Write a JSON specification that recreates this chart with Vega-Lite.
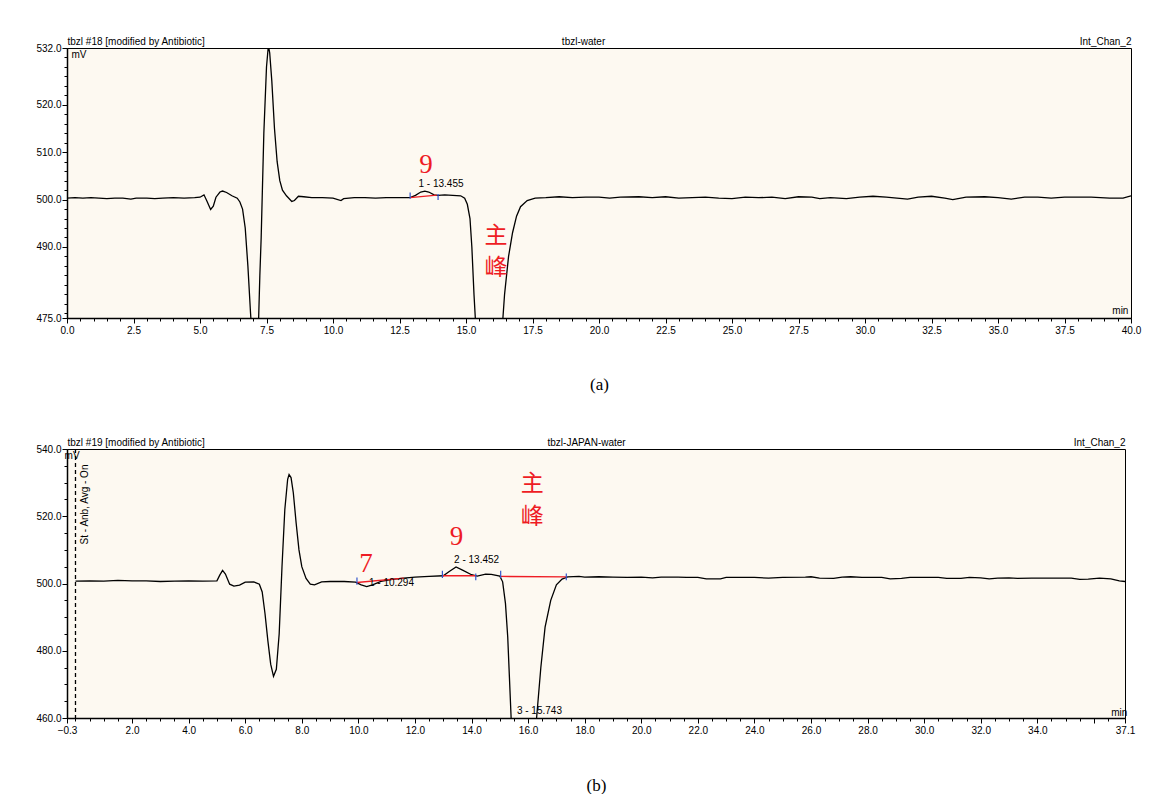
{
"$schema": "https://vega.github.io/schema/vega-lite/v6.json",
"background": "white",
"padding": {"left": 35, "top": 35, "right": 10, "bottom": 0},
"config": {
  "view": {"stroke": "black", "strokeWidth": 1, "fill": "#fdf9f1"},
  "axis": {"labelFont": "Liberation Sans", "labelFontSize": 10, "labelColor": "black", "domainColor": "black", "tickColor": "black", "grid": false, "titleFont": "Liberation Serif", "titleFontSize": 17, "titleFontWeight": "normal", "titleColor": "black"},
  "concat": {"spacing": 43}
},
"datasets": {
  "a": [
    {"t":0.0,"v":500.3},{"t":0.3,"v":500.4},{"t":0.6,"v":500.3},{"t":0.9,"v":500.4},{"t":1.2,"v":500.3},{"t":1.5,"v":500.2},{"t":1.8,"v":500.3},{"t":2.1,"v":500.3},{"t":2.4,"v":500.1},{"t":2.6,"v":500.3},{"t":3.0,"v":500.3},{"t":3.3,"v":500.2},{"t":3.6,"v":500.3},{"t":4.0,"v":500.4},{"t":4.4,"v":500.3},{"t":4.8,"v":500.4},{"t":5.0,"v":500.5},{"t":5.15,"v":501.0},{"t":5.25,"v":499.8},{"t":5.4,"v":497.9},{"t":5.5,"v":498.6},{"t":5.6,"v":500.5},{"t":5.75,"v":501.6},{"t":5.85,"v":501.8},{"t":6.0,"v":501.5},{"t":6.2,"v":500.8},{"t":6.4,"v":500.3},{"t":6.5,"v":499.5},{"t":6.6,"v":498.0},{"t":6.7,"v":494.0},{"t":6.8,"v":486.0},{"t":6.9,"v":476.0},{"t":7.0,"v":468.0},{"t":7.1,"v":466.0},{"t":7.2,"v":474.0},{"t":7.25,"v":484.0},{"t":7.3,"v":492.0},{"t":7.4,"v":514.0},{"t":7.5,"v":528.0},{"t":7.57,"v":532.5},{"t":7.62,"v":531.0},{"t":7.7,"v":525.0},{"t":7.8,"v":515.0},{"t":7.9,"v":508.0},{"t":8.0,"v":504.0},{"t":8.1,"v":502.0},{"t":8.25,"v":500.8},{"t":8.45,"v":499.6},{"t":8.55,"v":499.8},{"t":8.7,"v":500.7},{"t":8.9,"v":500.6},{"t":9.2,"v":500.4},{"t":9.6,"v":500.4},{"t":10.0,"v":500.3},{"t":10.3,"v":499.8},{"t":10.4,"v":500.2},{"t":10.8,"v":500.4},{"t":11.2,"v":500.4},{"t":11.6,"v":500.3},{"t":12.0,"v":500.4},{"t":12.4,"v":500.4},{"t":12.9,"v":500.4},{"t":13.1,"v":500.9},{"t":13.3,"v":501.6},{"t":13.455,"v":501.8},{"t":13.6,"v":501.6},{"t":13.8,"v":501.0},{"t":13.95,"v":500.9},{"t":14.2,"v":501.0},{"t":14.5,"v":500.9},{"t":14.8,"v":500.8},{"t":14.95,"v":500.3},{"t":15.05,"v":499.0},{"t":15.15,"v":496.0},{"t":15.22,"v":490.0},{"t":15.3,"v":480.0},{"t":15.4,"v":470.0},{"t":15.6,"v":460.0},{"t":15.8,"v":455.0},{"t":16.0,"v":456.0},{"t":16.2,"v":462.0},{"t":16.35,"v":472.0},{"t":16.45,"v":480.0},{"t":16.6,"v":488.0},{"t":16.75,"v":493.0},{"t":16.9,"v":496.5},{"t":17.05,"v":498.5},{"t":17.3,"v":499.8},{"t":17.6,"v":500.3},{"t":18.0,"v":500.4},{"t":18.5,"v":500.6},{"t":19.0,"v":500.4},{"t":19.5,"v":500.5},{"t":20.0,"v":500.5},{"t":20.4,"v":500.3},{"t":20.8,"v":500.5},{"t":21.5,"v":500.6},{"t":22.0,"v":500.4},{"t":22.5,"v":500.6},{"t":23.0,"v":500.3},{"t":23.5,"v":500.4},{"t":24.0,"v":500.5},{"t":24.5,"v":500.3},{"t":25.0,"v":500.2},{"t":25.5,"v":500.5},{"t":26.0,"v":500.4},{"t":26.5,"v":500.5},{"t":27.0,"v":500.2},{"t":27.5,"v":500.6},{"t":28.0,"v":500.5},{"t":28.3,"v":500.2},{"t":28.7,"v":500.4},{"t":29.3,"v":500.2},{"t":29.8,"v":500.5},{"t":30.3,"v":500.7},{"t":30.8,"v":500.5},{"t":31.2,"v":500.3},{"t":31.6,"v":500.1},{"t":32.0,"v":500.5},{"t":32.5,"v":500.7},{"t":33.0,"v":500.3},{"t":33.3,"v":500.0},{"t":33.8,"v":500.5},{"t":34.5,"v":500.6},{"t":35.0,"v":500.4},{"t":35.5,"v":500.1},{"t":36.0,"v":500.5},{"t":36.5,"v":500.5},{"t":37.0,"v":500.3},{"t":37.5,"v":500.5},{"t":38.5,"v":500.5},{"t":39.2,"v":500.3},{"t":39.7,"v":500.3},{"t":40.0,"v":500.8}
  ],
  "b": [
    {"t":0.0,"v":500.7},{"t":0.5,"v":500.8},{"t":1.0,"v":500.7},{"t":1.5,"v":500.9},{"t":2.0,"v":500.8},{"t":2.5,"v":500.8},{"t":3.0,"v":500.6},{"t":3.5,"v":500.7},{"t":4.0,"v":500.8},{"t":4.5,"v":500.7},{"t":5.0,"v":500.8},{"t":5.1,"v":502.5},{"t":5.2,"v":503.9},{"t":5.3,"v":502.8},{"t":5.45,"v":499.8},{"t":5.6,"v":499.2},{"t":5.8,"v":499.5},{"t":6.0,"v":500.4},{"t":6.3,"v":500.5},{"t":6.5,"v":499.8},{"t":6.6,"v":497.5},{"t":6.7,"v":491.0},{"t":6.8,"v":483.0},{"t":6.9,"v":476.0},{"t":7.0,"v":472.4},{"t":7.1,"v":474.5},{"t":7.2,"v":485.0},{"t":7.3,"v":505.0},{"t":7.4,"v":522.0},{"t":7.5,"v":531.0},{"t":7.55,"v":532.4},{"t":7.62,"v":531.5},{"t":7.7,"v":527.0},{"t":7.8,"v":518.0},{"t":7.9,"v":510.0},{"t":8.0,"v":505.0},{"t":8.15,"v":501.5},{"t":8.3,"v":499.8},{"t":8.45,"v":499.6},{"t":8.7,"v":500.5},{"t":9.0,"v":500.6},{"t":9.5,"v":500.6},{"t":9.9,"v":500.4},{"t":10.1,"v":499.6},{"t":10.294,"v":499.1},{"t":10.5,"v":499.6},{"t":10.8,"v":500.6},{"t":11.2,"v":501.2},{"t":11.6,"v":501.6},{"t":12.0,"v":501.9},{"t":12.5,"v":502.1},{"t":13.0,"v":502.3},{"t":13.2,"v":503.5},{"t":13.452,"v":504.9},{"t":13.7,"v":503.9},{"t":14.0,"v":502.6},{"t":14.2,"v":502.2},{"t":14.5,"v":502.8},{"t":14.7,"v":502.7},{"t":15.0,"v":502.2},{"t":15.1,"v":500.5},{"t":15.2,"v":494.0},{"t":15.28,"v":484.0},{"t":15.34,"v":472.0},{"t":15.4,"v":460.0},{"t":15.8,"v":440.0},{"t":16.1,"v":448.0},{"t":16.3,"v":460.0},{"t":16.45,"v":475.0},{"t":16.6,"v":487.0},{"t":16.8,"v":495.0},{"t":17.0,"v":499.6},{"t":17.2,"v":501.3},{"t":17.4,"v":502.0},{"t":17.8,"v":502.1},{"t":18.0,"v":501.9},{"t":18.5,"v":502.0},{"t":19.0,"v":501.9},{"t":19.5,"v":501.8},{"t":20.0,"v":501.9},{"t":20.4,"v":501.7},{"t":20.7,"v":501.9},{"t":21.3,"v":501.9},{"t":21.6,"v":501.8},{"t":22.0,"v":501.8},{"t":22.3,"v":501.4},{"t":22.8,"v":501.4},{"t":23.0,"v":501.8},{"t":24.0,"v":501.8},{"t":24.5,"v":501.6},{"t":25.0,"v":501.8},{"t":25.8,"v":501.9},{"t":26.0,"v":502.0},{"t":26.3,"v":501.6},{"t":26.8,"v":501.5},{"t":27.1,"v":501.9},{"t":27.4,"v":502.0},{"t":27.8,"v":501.8},{"t":28.5,"v":501.8},{"t":28.8,"v":501.4},{"t":29.2,"v":501.5},{"t":29.5,"v":501.8},{"t":30.5,"v":501.8},{"t":30.8,"v":501.5},{"t":31.3,"v":501.5},{"t":31.6,"v":501.8},{"t":32.0,"v":501.7},{"t":32.3,"v":501.4},{"t":32.6,"v":501.6},{"t":33.0,"v":501.7},{"t":33.3,"v":501.5},{"t":33.8,"v":501.6},{"t":34.5,"v":501.6},{"t":35.2,"v":501.6},{"t":35.5,"v":501.2},{"t":35.8,"v":501.3},{"t":36.2,"v":501.6},{"t":36.6,"v":501.4},{"t":36.9,"v":500.8},{"t":37.1,"v":500.6}
  ],
  "ia": [{"seg":"p1","t":12.9,"v":500.4},{"seg":"p1","t":13.9,"v":500.95}],
  "ib": [{"seg":"p1","t":9.95,"v":500.3},{"seg":"p1","t":11.6,"v":501.6},{"seg":"p2","t":12.97,"v":502.3},{"seg":"p2","t":14.15,"v":502.3},{"seg":"p3","t":15.03,"v":502.1},{"seg":"p3","t":17.35,"v":502.0}],
  "ma": [{"t":12.9,"v1":500.2,"v2":501.5},{"t":13.95,"v1":499.9,"v2":501.2}],
  "mb": [{"t":9.95,"v1":499.6,"v2":501.8},{"t":12.97,"v1":501.6,"v2":503.8},{"t":14.15,"v1":501.0,"v2":503.0},{"t":15.03,"v1":501.6,"v2":503.8},{"t":17.35,"v1":501.0,"v2":503.0}],
  "numA": [{"t":13.5,"v":507.3,"label":"9"}],
  "cjkA": [{"t":16.13,"v":492.3,"label":"主"},{"t":16.13,"v":485.6,"label":"峰"}],
  "smallA": [{"t":14.06,"v":503.3,"label":"1 - 13.455"},{"t":0.45,"v":530.5,"label":"mV"},{"t":39.6,"v":476.5,"label":"min"}],
  "numB": [{"t":10.27,"v":505.8,"label":"7"},{"t":13.47,"v":513.8,"label":"9"}],
  "cjkB": [{"t":16.15,"v":529.6,"label":"主"},{"t":16.15,"v":519.9,"label":"峰"}],
  "smallB": [{"t":11.17,"v":500.2,"label":"1 - 10.294"},{"t":14.18,"v":507.0,"label":"2 - 13.452"},{"t":16.4,"v":462.1,"label":"3 - 15.743"},{"t":-0.12,"v":537.9,"label":"mV"},{"t":36.9,"v":461.5,"label":"min"}],
  "injB": [{"t":0}],
  "noteB": [{"t":0.33,"v":523.5,"label":"St - Anb, Avg - On"}]
},
"vconcat": [
  {
    "width": 1064, "height": 270,
    "resolve": {"axis": {"x": "independent", "y": "independent"}},
    "layer": [
      {"data": {"name": "a"}, "mark": {"type": "line", "color": "black", "strokeWidth": 1.3, "clip": true},
       "encoding": {
         "x": {"field": "t", "type": "quantitative", "scale": {"domain": [0, 40], "nice": false, "zero": false},
               "axis": {"orient": "bottom", "title": "(a)", "titlePadding": 41, "labelFlush": false, "labelOverlap": false, "labelPadding": 2, "domainWidth": 1.5,
                        "values": [0,0.5,1,1.5,2,2.5,3,3.5,4,4.5,5,5.5,6,6.5,7,7.5,8,8.5,9,9.5,10,10.5,11,11.5,12,12.5,13,13.5,14,14.5,15,15.5,16,16.5,17,17.5,18,18.5,19,19.5,20,20.5,21,21.5,22,22.5,23,23.5,24,24.5,25,25.5,26,26.5,27,27.5,28,28.5,29,29.5,30,30.5,31,31.5,32,32.5,33,33.5,34,34.5,35,35.5,36,36.5,37,37.5,38,38.5,39,39.5,40],
                        "labelExpr": "datum.value % 2.5 == 0 ? format(datum.value, '.1f') : ''",
                        "tickSize": {"condition": {"test": "datum.value % 2.5 == 0", "value": 5}, "value": 3}}},
         "y": {"field": "v", "type": "quantitative", "scale": {"domain": [475, 532], "nice": false, "zero": false},
               "axis": {"title": null, "labelOverlap": false, "labelPadding": 1, "domainWidth": 1.5,
                        "values": [475,476,478,480,482,484,486,488,490,492,494,496,498,500,502,504,506,508,510,512,514,516,518,520,522,524,526,528,530,532],
                        "labelExpr": "(datum.value == 475 || datum.value == 532 || (datum.value >= 490 && datum.value <= 520 && datum.value % 10 == 0)) ? format(datum.value, '.1f') : ''",
                        "tickSize": {"condition": {"test": "datum.value == 475 || datum.value == 532 || (datum.value >= 490 && datum.value <= 520 && datum.value % 10 == 0)", "value": 5}, "value": 3}}}
       }},
      {"data": {"name": "ia"}, "mark": {"type": "line", "color": "#ee1c24", "strokeWidth": 1.3},
       "encoding": {
         "x": {"field": "t", "type": "quantitative", "scale": {"domain": [0, 40], "nice": false, "zero": false}, "axis": null},
         "y": {"field": "v", "type": "quantitative", "scale": {"domain": [475, 532], "nice": false, "zero": false}, "axis": null},
         "detail": {"field": "seg"}}},
      {"data": {"name": "ma"}, "mark": {"type": "rule", "color": "#3355cc", "strokeWidth": 1.2},
       "encoding": {
         "x": {"field": "t", "type": "quantitative", "scale": {"domain": [0, 40], "nice": false, "zero": false}, "axis": null},
         "y": {"field": "v1", "type": "quantitative", "scale": {"domain": [475, 532], "nice": false, "zero": false}, "axis": null},
         "y2": {"field": "v2"}}},
      {"data": {"name": "numA"}, "mark": {"type": "text", "font": "Liberation Serif", "fontSize": 27, "color": "#ee1c24", "baseline": "middle", "align": "center"},
       "encoding": {
         "x": {"field": "t", "type": "quantitative", "scale": {"domain": [0, 40], "nice": false, "zero": false}, "axis": null},
         "y": {"field": "v", "type": "quantitative", "scale": {"domain": [475, 532], "nice": false, "zero": false}, "axis": null},
         "text": {"field": "label"}}},
      {"data": {"name": "cjkA"}, "mark": {"type": "text", "font": "Noto Sans CJK SC", "fontSize": 23, "color": "#ee1c24", "baseline": "middle", "align": "center"},
       "encoding": {
         "x": {"field": "t", "type": "quantitative", "scale": {"domain": [0, 40], "nice": false, "zero": false}, "axis": null},
         "y": {"field": "v", "type": "quantitative", "scale": {"domain": [475, 532], "nice": false, "zero": false}, "axis": null},
         "text": {"field": "label"}}},
      {"data": {"name": "smallA"}, "mark": {"type": "text", "font": "Liberation Sans", "fontSize": 10, "color": "black", "baseline": "middle", "align": "center"},
       "encoding": {
         "x": {"field": "t", "type": "quantitative", "scale": {"domain": [0, 40], "nice": false, "zero": false},
               "axis": {"orient": "top", "title": null, "ticks": false, "domain": false, "labelFlush": false, "labelOverlap": false, "labelPadding": 2,
                        "values": [0, 19.4, 40],
                        "labelExpr": "datum.value == 0 ? 'tbzl #18 [modified by Antibiotic]' : datum.value == 40 ? 'Int_Chan_2' : 'tbzl-water'",
                        "labelAlign": {"condition": [{"test": "datum.value == 0", "value": "left"}, {"test": "datum.value == 40", "value": "right"}], "value": "center"}}},
         "y": {"field": "v", "type": "quantitative", "scale": {"domain": [475, 532], "nice": false, "zero": false}, "axis": null},
         "text": {"field": "label"}}}
    ]
  },
  {
    "width": 1058, "height": 269,
    "resolve": {"axis": {"x": "independent", "y": "independent"}},
    "layer": [
      {"data": {"name": "injB"}, "mark": {"type": "rule", "color": "black", "strokeWidth": 1.3, "strokeDash": [4, 3]},
       "encoding": {
         "x": {"field": "t", "type": "quantitative", "scale": {"domain": [-0.3, 37.1], "nice": false, "zero": false}, "axis": null}}},
      {"data": {"name": "b"}, "mark": {"type": "line", "color": "black", "strokeWidth": 1.3, "clip": true},
       "encoding": {
         "x": {"field": "t", "type": "quantitative", "scale": {"domain": [-0.3, 37.1], "nice": false, "zero": false},
               "axis": {"orient": "bottom", "title": "(b)", "titlePadding": 42, "labelFlush": false, "labelOverlap": false, "labelPadding": 2, "domainWidth": 1.5,
                        "values": [-0.3,0,0.5,1,1.5,2,2.5,3,3.5,4,4.5,5,5.5,6,6.5,7,7.5,8,8.5,9,9.5,10,10.5,11,11.5,12,12.5,13,13.5,14,14.5,15,15.5,16,16.5,17,17.5,18,18.5,19,19.5,20,20.5,21,21.5,22,22.5,23,23.5,24,24.5,25,25.5,26,26.5,27,27.5,28,28.5,29,29.5,30,30.5,31,31.5,32,32.5,33,33.5,34,34.5,35,35.5,36,36.5,37.1],
                        "labelExpr": "(datum.value == -0.3 || datum.value == 37.1 || (datum.value > 0 && datum.value <= 34 && datum.value % 2 == 0)) ? format(datum.value, '.1f') : ''",
                        "tickSize": {"condition": {"test": "datum.value == -0.3 || datum.value == 37.1 || (datum.value > 0 && datum.value % 2 == 0)", "value": 5}, "value": 3}}},
         "y": {"field": "v", "type": "quantitative", "scale": {"domain": [460, 540], "nice": false, "zero": false},
               "axis": {"title": null, "labelOverlap": false, "labelPadding": 1, "domainWidth": 1.5,
                        "values": [460,465,470,475,480,485,490,495,500,505,510,515,520,525,530,535,540],
                        "labelExpr": "datum.value % 20 == 0 ? format(datum.value, '.1f') : ''",
                        "tickSize": {"condition": {"test": "datum.value % 20 == 0", "value": 5}, "value": 3}}}
       }},
      {"data": {"name": "ib"}, "mark": {"type": "line", "color": "#ee1c24", "strokeWidth": 1.3},
       "encoding": {
         "x": {"field": "t", "type": "quantitative", "scale": {"domain": [-0.3, 37.1], "nice": false, "zero": false}, "axis": null},
         "y": {"field": "v", "type": "quantitative", "scale": {"domain": [460, 540], "nice": false, "zero": false}, "axis": null},
         "detail": {"field": "seg"}}},
      {"data": {"name": "mb"}, "mark": {"type": "rule", "color": "#3355cc", "strokeWidth": 1.2},
       "encoding": {
         "x": {"field": "t", "type": "quantitative", "scale": {"domain": [-0.3, 37.1], "nice": false, "zero": false}, "axis": null},
         "y": {"field": "v1", "type": "quantitative", "scale": {"domain": [460, 540], "nice": false, "zero": false}, "axis": null},
         "y2": {"field": "v2"}}},
      {"data": {"name": "numB"}, "mark": {"type": "text", "font": "Liberation Serif", "fontSize": 27, "color": "#ee1c24", "baseline": "middle", "align": "center"},
       "encoding": {
         "x": {"field": "t", "type": "quantitative", "scale": {"domain": [-0.3, 37.1], "nice": false, "zero": false}, "axis": null},
         "y": {"field": "v", "type": "quantitative", "scale": {"domain": [460, 540], "nice": false, "zero": false}, "axis": null},
         "text": {"field": "label"}}},
      {"data": {"name": "cjkB"}, "mark": {"type": "text", "font": "Noto Sans CJK SC", "fontSize": 23, "color": "#ee1c24", "baseline": "middle", "align": "center"},
       "encoding": {
         "x": {"field": "t", "type": "quantitative", "scale": {"domain": [-0.3, 37.1], "nice": false, "zero": false}, "axis": null},
         "y": {"field": "v", "type": "quantitative", "scale": {"domain": [460, 540], "nice": false, "zero": false}, "axis": null},
         "text": {"field": "label"}}},
      {"data": {"name": "noteB"}, "mark": {"type": "text", "font": "Liberation Sans", "fontSize": 10, "color": "black", "baseline": "middle", "align": "center", "angle": 270},
       "encoding": {
         "x": {"field": "t", "type": "quantitative", "scale": {"domain": [-0.3, 37.1], "nice": false, "zero": false}, "axis": null},
         "y": {"field": "v", "type": "quantitative", "scale": {"domain": [460, 540], "nice": false, "zero": false}, "axis": null},
         "text": {"field": "label"}}},
      {"data": {"name": "smallB"}, "mark": {"type": "text", "font": "Liberation Sans", "fontSize": 10, "color": "black", "baseline": "middle", "align": "center"},
       "encoding": {
         "x": {"field": "t", "type": "quantitative", "scale": {"domain": [-0.3, 37.1], "nice": false, "zero": false},
               "axis": {"orient": "top", "title": null, "ticks": false, "domain": false, "labelFlush": false, "labelOverlap": false, "labelPadding": 2,
                        "values": [-0.3, 18.05, 37.1],
                        "labelExpr": "datum.value == -0.3 ? 'tbzl #19 [modified by Antibiotic]' : datum.value == 37.1 ? 'Int_Chan_2' : 'tbzl-JAPAN-water'",
                        "labelAlign": {"condition": [{"test": "datum.value == -0.3", "value": "left"}, {"test": "datum.value == 37.1", "value": "right"}], "value": "center"}}},
         "y": {"field": "v", "type": "quantitative", "scale": {"domain": [460, 540], "nice": false, "zero": false}, "axis": null},
         "text": {"field": "label"}}}
    ]
  }
]
}
